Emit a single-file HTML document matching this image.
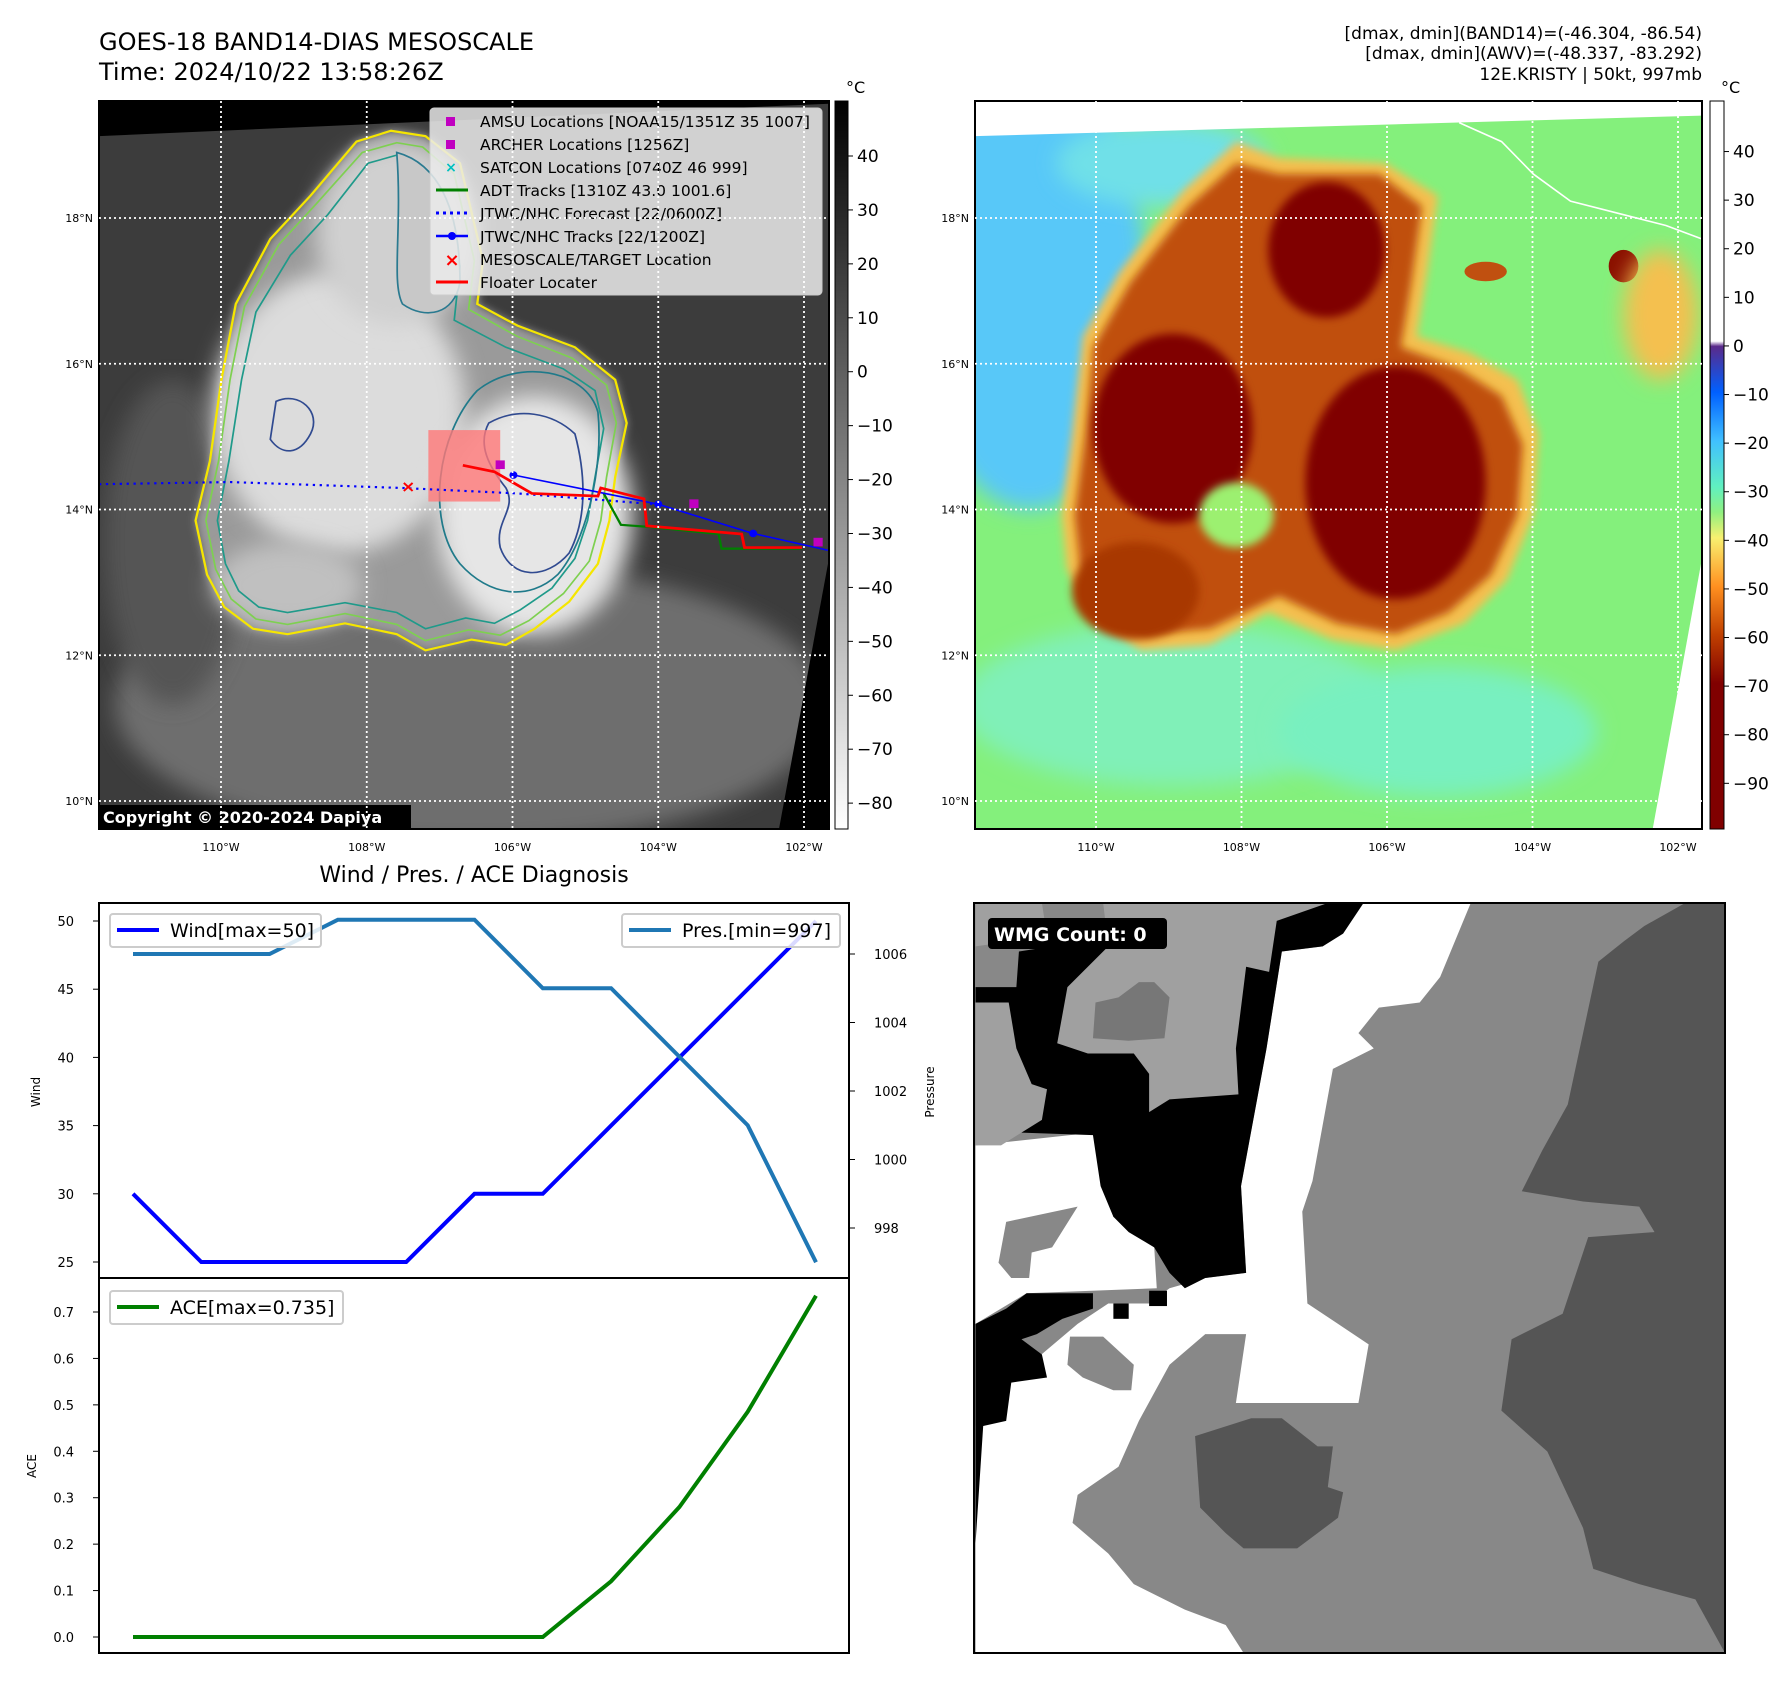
<!DOCTYPE html>
<html><head><meta charset="utf-8"><style>
html,body{margin:0;padding:0;background:#fff;}
svg{display:block;font-family:"DejaVu Sans","Liberation Sans",sans-serif;}
</style></head><body>
<svg id="root" width="1792" height="1690" viewBox="0 0 1792 1690" xmlns="http://www.w3.org/2000/svg">
<defs>
<filter id="blur8" x="-20%" y="-20%" width="140%" height="140%"><feGaussianBlur stdDeviation="8"/></filter>
<filter id="blur20" x="-30%" y="-30%" width="160%" height="160%"><feGaussianBlur stdDeviation="20"/></filter>
<linearGradient id="cb1" x1="0" y1="0" x2="0" y2="1"><stop offset="0" stop-color="#000"/><stop offset="1" stop-color="#fff"/></linearGradient>
<linearGradient id="cb2" x1="0" y1="0" x2="0" y2="1">
<stop offset="0" stop-color="#ffffff"/><stop offset="0.33" stop-color="#ffffff"/>
<stop offset="0.337" stop-color="#5a2a8a"/><stop offset="0.40" stop-color="#0060ff"/>
<stop offset="0.467" stop-color="#40c0ff"/><stop offset="0.53" stop-color="#60f0c0"/>
<stop offset="0.565" stop-color="#90f080"/><stop offset="0.60" stop-color="#f8f070"/>
<stop offset="0.667" stop-color="#ff9020"/><stop offset="0.733" stop-color="#c04000"/>
<stop offset="0.80" stop-color="#800000"/><stop offset="1" stop-color="#800000"/></linearGradient>
<clipPath id="clip1"><rect x="172" y="185" width="1270" height="1345"/></clipPath>
<clipPath id="clip2"><rect x="27" y="185" width="1371" height="1345"/></clipPath>
</defs>

<!-- titles -->
<text x="99" y="50" font-size="24" fill="#000">GOES-18 BAND14-DIAS MESOSCALE</text>
<text x="99" y="80" font-size="24" fill="#000">Time: 2024/10/22 13:58:26Z</text>
<g font-size="17" text-anchor="end" fill="#000">
<text x="1702" y="39">[dmax, dmin](BAND14)=(-46.304, -86.54)</text>
<text x="1702" y="59">[dmax, dmin](AWV)=(-48.337, -83.292)</text>
<text x="1702" y="80">12E.KRISTY | 50kt, 997mb</text>
</g>

<!-- MAP 1 -->
<g>
<svg x="99" y="101" width="730" height="728" viewBox="172 185 1270 1345" preserveAspectRatio="none">
<g clip-path="url(#clip1)">
<rect x="172" y="185" width="1270" height="1345" fill="#3c3c3c"/>
<ellipse cx="820" cy="1300" rx="620" ry="260" fill="#6e6e6e" filter="url(#blur20)"/>
<ellipse cx="300" cy="1000" rx="120" ry="300" fill="#555" filter="url(#blur20)"/>
<polygon points="385,700 410,560 470,440 540,360 620,260 680,240 740,250 800,300 840,480 830,560 900,600 1000,640 1070,700 1090,780 1070,880 1060,960 1040,1040 990,1110 930,1160 880,1190 820,1180 740,1200 690,1170 600,1150 500,1170 440,1160 390,1120 360,1060 340,960 365,850" fill="#9a9a9a" filter="url(#blur8)"/>
<ellipse cx="590" cy="760" rx="220" ry="260" fill="#dcdcdc" filter="url(#blur20)"/>
<ellipse cx="690" cy="430" rx="140" ry="170" fill="#d0d0d0" filter="url(#blur20)"/>
<ellipse cx="930" cy="950" rx="170" ry="220" fill="#e6e6e6" filter="url(#blur20)"/>
<ellipse cx="500" cy="1080" rx="130" ry="80" fill="#c0c0c0" filter="url(#blur20)"/>
<polygon points="385,700 410,560 470,440 540,360 620,260 680,240 740,250 800,300 840,480 830,560 900,600 1000,640 1070,700 1090,780 1070,880 1060,960 1040,1040 990,1110 930,1160 880,1190 820,1180 740,1200 690,1170 600,1150 500,1170 440,1160 390,1120 360,1060 340,960 365,850" fill="none" stroke="#f5e600" stroke-width="4"/>
<polygon points="400,700 425,565 485,450 550,375 630,280 690,262 735,270 790,320 825,480 815,570 900,620 995,660 1055,710 1072,780 1055,880 1045,960 1025,1035 980,1095 920,1145 870,1172 815,1162 740,1182 690,1152 600,1132 500,1152 445,1142 402,1105 375,1050 358,960 380,850" fill="none" stroke="#7ed050" stroke-width="3"/>
<polygon points="420,700 445,575 505,470 570,395 640,300 690,285 720,300 760,340 800,490 790,590 880,640 980,680 1035,720 1050,790 1035,880 1022,960 1000,1030 960,1085 905,1125 860,1150 810,1140 740,1160 690,1130 600,1112 500,1130 450,1120 415,1090 392,1040 378,960 398,850" fill="none" stroke="#1f9a8a" stroke-width="3"/>
<path d="M690,280 C760,300 800,380 800,520 C790,580 740,590 700,560 C680,520 700,420 690,280Z" fill="#c8c8c8" stroke="#2a7a90" stroke-width="3"/>
<path d="M830,720 C900,660 1020,680 1040,760 C1050,860 1020,1000 970,1060 C920,1110 850,1100 800,1040 C740,960 760,800 830,720Z" fill="none" stroke="#1f7a8a" stroke-width="3"/>
<path d="M850,780 C900,750 960,760 1000,800 C1020,880 1020,960 990,1020 C950,1070 890,1070 870,1010 C860,960 900,940 880,900 C850,860 830,820 850,780Z" fill="none" stroke="#304a90" stroke-width="3"/>
<path d="M480,740 C520,720 560,760 540,800 C520,840 490,840 470,810 Z" fill="none" stroke="#304a90" stroke-width="3"/>
</g>
<polygon points="172,185 1442,185 1442,190 172,250" fill="#000"/>
<polygon points="1442,1030 1442,1530 1355,1530" fill="#000"/>
<rect x="745" y="793" width="125" height="132" fill="rgba(255,120,120,0.8)"/>
<polyline points="172,893 400,889 700,900 900,910 1140,930" fill="none" stroke="#0000ff" stroke-width="4" stroke-dasharray="4,8"/>
<polyline points="1050,910 1080,968 1130,972 1250,985 1255,1012 1395,1012" fill="none" stroke="#008000" stroke-width="4"/>
<polyline points="893,876 1145,930 1310,984 1440,1015" fill="none" stroke="#0000ff" stroke-width="3"/>
<g fill="#0000ff"><circle cx="893" cy="876" r="7"/><circle cx="1145" cy="930" r="7"/><circle cx="1310" cy="984" r="7"/></g>
<polyline points="805,858 860,870 925,910 1040,915 1045,900 1120,920 1125,970 1290,985 1295,1010 1395,1010" fill="none" stroke="#ff0000" stroke-width="5"/>
<g fill="#c000c0"><rect x="862" y="849" width="16" height="16"/><rect x="1199" y="921" width="16" height="16"/><rect x="1415" y="992" width="16" height="16"/></g>
<text x="710" y="907" font-size="30" font-weight="bold" fill="#ff0000" text-anchor="middle">×</text>
</svg>
<rect x="99" y="101" width="730" height="728" fill="none" stroke="#000" stroke-width="2"/>
</g>

<!-- Legend map1 -->
<g>
<rect x="430" y="108" width="392" height="187" rx="4" fill="rgba(235,235,235,0.85)" stroke="#ccc"/>
<g font-size="15.5" fill="#000">
<rect x="446" y="117" width="9" height="9" fill="#c000c0"/><text x="480" y="127">AMSU Locations [NOAA15/1351Z 35 1007]</text>
<rect x="446" y="140" width="9" height="9" fill="#c000c0"/><text x="480" y="150">ARCHER Locations [1256Z]</text>
<text x="451" y="172" fill="#00c0c0" font-weight="bold" text-anchor="middle" font-size="14">×</text><text x="480" y="173">SATCON Locations [0740Z 46 999]</text>
<line x1="436" y1="190" x2="468" y2="190" stroke="#008000" stroke-width="3"/><text x="480" y="196">ADT Tracks [1310Z 43.0 1001.6]</text>
<line x1="436" y1="213" x2="468" y2="213" stroke="#0000ff" stroke-width="3" stroke-dasharray="3,4"/><text x="480" y="219">JTWC/NHC Forecast [22/0600Z]</text>
<line x1="436" y1="236" x2="468" y2="236" stroke="#0000ff" stroke-width="2.5"/><circle cx="452" cy="236" r="4" fill="#0000ff"/><text x="480" y="242">JTWC/NHC Tracks [22/1200Z]</text>
<text x="452" y="266" fill="#ff0000" font-weight="bold" text-anchor="middle" font-size="18">×</text><text x="480" y="265">MESOSCALE/TARGET Location</text>
<line x1="436" y1="282" x2="468" y2="282" stroke="#ff0000" stroke-width="3"/><text x="480" y="288">Floater Locater</text>
</g></g>
<rect x="99" y="805" width="312" height="24" fill="#000"/>
<text x="103" y="823" font-size="16" font-weight="bold" fill="#fff">Copyright © 2020-2024 Dapiya</text>

<!-- MAP 2 -->
<g>
<svg x="975" y="101" width="727" height="728" viewBox="27 185 1371 1345" preserveAspectRatio="none">
<g clip-path="url(#clip2)">
<rect x="27" y="185" width="1371" height="1345" fill="#84f07c"/>
<ellipse cx="130" cy="520" rx="220" ry="420" fill="#58c8f8" filter="url(#blur20)"/>
<ellipse cx="380" cy="300" rx="200" ry="80" fill="#70e0e8" filter="url(#blur20)"/>
<ellipse cx="400" cy="1300" rx="400" ry="150" fill="#80f0b8" filter="url(#blur20)"/>
<ellipse cx="900" cy="1350" rx="300" ry="120" fill="#78f0c0" filter="url(#blur20)"/>
<polygon points="230,620 300,500 420,350 520,260 600,290 800,300 900,360 880,500 860,620 960,650 1050,700 1090,800 1080,950 1030,1070 950,1150 820,1200 700,1180 580,1130 470,1190 340,1200 250,1140 200,1050 190,950 210,800" fill="#f4c050" filter="url(#blur8)"/>
<polygon points="250,640 320,520 430,380 520,300 600,320 790,320 870,380 850,520 830,640 940,680 1020,730 1060,820 1050,950 1000,1060 920,1130 820,1170 710,1150 600,1100 470,1160 350,1170 270,1120 225,1040 215,950 235,800" fill="#c05010" filter="url(#blur8)"/>
<ellipse cx="400" cy="790" rx="150" ry="175" fill="#800000" filter="url(#blur8)"/>
<ellipse cx="690" cy="460" rx="110" ry="125" fill="#800000" filter="url(#blur8)"/>
<ellipse cx="820" cy="890" rx="170" ry="215" fill="#800000" filter="url(#blur8)"/>
<ellipse cx="330" cy="1090" rx="120" ry="90" fill="#a83800" filter="url(#blur8)"/>
<ellipse cx="520" cy="950" rx="70" ry="60" fill="#9cf070" filter="url(#blur8)"/>
<ellipse cx="1250" cy="490" rx="28" ry="30" fill="#8a1000"/>
<ellipse cx="990" cy="500" rx="40" ry="18" fill="#c05010"/>
<ellipse cx="1320" cy="580" rx="70" ry="120" fill="#f4c050" filter="url(#blur20)"/>
<polyline points="940,225 1020,260 1080,320 1150,370 1250,395 1330,415 1398,440" fill="none" stroke="#fff" stroke-width="3"/>
</g>
<polygon points="27,185 1398,185 1398,212 27,250" fill="#fff"/>
<polygon points="1398,1030 1398,1530 1305,1530" fill="#fff"/>
</svg>
<rect x="975" y="101" width="727" height="728" fill="none" stroke="#000" stroke-width="2"/>
</g>

<!-- colorbars -->
<rect x="835" y="101" width="13" height="728" fill="url(#cb1)" stroke="#000" stroke-width="1"/>
<rect x="1710" y="101" width="14" height="728" fill="url(#cb2)" stroke="#000" stroke-width="1"/>
<text x="846" y="93" font-size="16">°C</text>
<text x="1721" y="93" font-size="16">°C</text>
<g id="cbticks" font-size="17" fill="#000"></g>
<g id="gridlines"></g>

<!-- BOTTOM RIGHT WMG -->
<g>
<svg x="974" y="903" width="751" height="750" viewBox="27 45 1471 1470" preserveAspectRatio="none">
<rect x="27" y="45" width="1471" height="1470" fill="#888"/>
<polygon points="1420,45 1498,45 1498,1515 1440,1410 1330,1380 1240,1350 1220,1270 1150,1120 1060,1040 1080,900 1180,850 1230,700 1360,690 1330,640 1220,630 1100,610 1140,530 1190,440 1250,160 1300,120 1340,90" fill="#555"/>
<polygon points="570,1055 630,1055 700,1110 730,1110 720,1190 750,1200 740,1250 700,1280 660,1310 555,1310 520,1280 470,1230 460,1090" fill="#555"/>
<polygon points="30,1515 555,1515 520,1460 440,1430 340,1380 290,1320 220,1260 230,1205 310,1150 350,1060 410,950 480,890 560,890 540,1025 780,1025 800,910 740,870 680,830 670,650 690,590 730,370 810,330 780,300 820,250 900,240 940,190 1000,45 790,45 710,130 630,140 600,330 550,600 560,770 480,780 410,800 370,830 290,830 230,870 100,980 30,1070" fill="#fff"/>
<polygon points="30,520 260,495 300,660 380,720 385,800 130,810 30,870" fill="#fff"/>
<polygon points="720,45 790,45 750,105 710,130 630,140 600,330 550,600 560,770 480,780 440,800 410,770 380,720 330,690 300,660 275,600 260,500 120,495 110,420 100,320 30,320 30,210 110,210 115,140 180,130 270,130 300,120 310,45" fill="#000"/>
<polygon points="280,45 720,45 620,80 605,180 560,170 540,330 545,420 410,430 370,455 370,380 340,340 250,340 190,320 210,210 250,170 290,130" fill="#a0a0a0"/>
<polygon points="30,45 160,45 170,110 30,130" fill="#a0a0a0"/>
<polygon points="30,240 95,240 110,330 140,400 170,410 160,470 80,520 30,520" fill="#a0a0a0"/>
<polygon points="265,240 310,230 350,200 380,200 410,230 400,310 330,315 260,310" fill="#777"/>
<polygon points="30,870 90,840 130,810 260,810 260,840 200,860 150,890 120,900 160,930 170,975 100,985 90,1060 45,1070 30,1300" fill="#000"/>
<polygon points="90,670 230,640 180,720 140,730 135,780 100,780 75,750" fill="#888"/>
<polygon points="215,895 280,895 340,950 335,1000 300,1000 240,975 210,950" fill="#888"/>
<rect x="300" y="830" width="30" height="30" fill="#000"/>
<rect x="370" y="805" width="35" height="30" fill="#000"/>
</svg>
<rect x="974" y="903" width="751" height="750" fill="none" stroke="#000" stroke-width="2"/>
<rect x="988" y="918" width="179" height="31" rx="4" fill="#000"/>
<text x="994" y="941" font-size="19" font-weight="bold" fill="#fff">WMG Count: 0</text>
</g>

<!-- BOTTOM LEFT CHART -->
<text x="474" y="882" font-size="22" text-anchor="middle">Wind / Pres. / ACE Diagnosis</text>
<g id="chart"></g>
</svg>

<script>
const NS='http://www.w3.org/2000/svg';
function mk(tag,attrs,parent,text){const e=document.createElementNS(NS,tag);for(const k in attrs)e.setAttribute(k,attrs[k]);if(text!==undefined)e.textContent=text;parent.appendChild(e);return e;}

// ---- data ----
const windValues=[30,25,25,25,25,30,30,35,40,45,50];
const presValues=[1006,1006,1006,1007,1007,1007,1005,1005,1003,1001,997];
const aceValues=[0,0,0,0,0,0,0,0.12,0.28,0.485,0.735];
const windTicks=[25,30,35,40,45,50];
const presTicks=[998,1000,1002,1004,1006];
const aceTicks=[0.0,0.1,0.2,0.3,0.4,0.5,0.6,0.7];
const ir_cbTicks=[40,30,20,10,0,-10,-20,-30,-40,-50,-60,-70,-80];
const awv_cbTicks=[40,30,20,10,0,-10,-20,-30,-40,-50,-60,-70,-80,-90];
const latTicks=[18,16,14,12,10];
const lonTicks=[110,108,106,104,102];

// axes functions
const xPos=i=>133+i*(816-133)/(windValues.length-1);
const yWind=v=>921+(50-v)*(1262-921)/25;
const yPres=v=>954+(1006-v)*(1228-954)/8;
const yAce=v=>1637-v*(1637-1312)/0.7;
const yIr=v=>101+(50.2-v)*728/135;
const yAwv=v=>101+(50.4-v)*728/149.8;
const yLat=v=>218+(18-v)*(801-218)/8;
const xLon1=v=>221+(110-v)*(804-221)/8;
const xLon2=v=>1096+(110-v)*(1678-1096)/8;

const chart=document.getElementById('chart');
const ax1=mk('rect',{x:99,y:903,width:750,height:375,fill:'none',stroke:'#000','stroke-width':2},chart);


const ax2=mk('rect',{x:99,y:1278,width:750,height:375,fill:'none',stroke:'#000','stroke-width':2},chart);



windTicks.forEach(v=>{const y=yWind(v);mk('line',{x1:93,y1:y,x2:99,y2:y,stroke:'#000'},chart);
 const t=mk('text',{x:74,y:y+5,'font-size':13,'text-anchor':'end'},chart,String(v));
 
 });
presTicks.forEach(v=>{const y=yPres(v);mk('line',{x1:849,y1:y,x2:855,y2:y,stroke:'#000'},chart);
 const t=mk('text',{x:874,y:y+5,'font-size':13},chart,String(v));
 
 });
aceTicks.forEach(v=>{const y=yAce(v);mk('line',{x1:93,y1:y,x2:99,y2:y,stroke:'#000'},chart);
 const t=mk('text',{x:74,y:y+5,'font-size':13,'text-anchor':'end'},chart,v.toFixed(1));
 
 });
const wl=mk('text',{x:40,y:1092,'font-size':12,'text-anchor':'middle',transform:'rotate(-90 40 1092)'},chart,'Wind');


const pl=mk('text',{x:934,y:1092,'font-size':12,'text-anchor':'middle',transform:'rotate(-90 934 1092)'},chart,'Pressure');


const al=mk('text',{x:36,y:1466,'font-size':12,'text-anchor':'middle',transform:'rotate(-90 36 1466)'},chart,'ACE');



const windLine=mk('polyline',{points:windValues.map((v,i)=>xPos(i)+','+yWind(v)).join(' '),fill:'none',stroke:'#0000ff','stroke-width':4},chart);


const presLine=mk('polyline',{points:presValues.map((v,i)=>xPos(i)+','+yPres(v)).join(' '),fill:'none',stroke:'#1f77b4','stroke-width':4},chart);


const aceLine=mk('polyline',{points:aceValues.map((v,i)=>xPos(i)+','+yAce(v)).join(' '),fill:'none',stroke:'#008000','stroke-width':4},chart);



function legend(x,y,w,color,label,name){const g=mk('g',{},chart);
 
 
 mk('rect',{x:x,y:y,width:w,height:33,rx:3,fill:'rgba(255,255,255,0.85)',stroke:'#ccc','stroke-width':2},g);
 mk('line',{x1:x+7,y1:y+16,x2:x+49,y2:y+16,stroke:color,'stroke-width':4},g);
 mk('text',{x:x+60,y:y+23,'font-size':19},g,label);}
legend(110,914,211,'#0000ff','Wind[max=50]','wind-legend');
legend(622,914,218,'#1f77b4','Pres.[min=997]','pressure-legend');
legend(110,1291,233,'#008000','ACE[max=0.735]','ace-legend');

const cbg=document.getElementById('cbticks');
ir_cbTicks.forEach(v=>{const y=yIr(v);mk('line',{x1:848,y1:y,x2:853,y2:y,stroke:'#000'},cbg);
 const t=mk('text',{x:857,y:y+6},cbg,v<0?'\u2212'+(-v):String(v));
 
 });
awv_cbTicks.forEach(v=>{const y=yAwv(v);mk('line',{x1:1724,y1:y,x2:1729,y2:y,stroke:'#000'},cbg);
 const t=mk('text',{x:1733,y:y+6},cbg,v<0?'\u2212'+(-v):String(v));
 
 });

const gg=document.getElementById('gridlines');
[[99,829,xLon1],[975,1702,xLon2]].forEach(([x0,x1,fx])=>{
 latTicks.forEach(v=>{const y=yLat(v);mk('line',{x1:x0,y1:y,x2:x1,y2:y,stroke:'#fff','stroke-width':1.8,'stroke-dasharray':'2,3'},gg);
  const t=mk('text',{x:x0-6,y:y+4,'font-size':11,'text-anchor':'end'},gg,v+'°N');
  
  });
 lonTicks.forEach(v=>{const x=fx(v);mk('line',{x1:x,y1:101,x2:x,y2:829,stroke:'#fff','stroke-width':1.8,'stroke-dasharray':'2,3'},gg);
  const t=mk('text',{x:x,y:851,'font-size':11,'text-anchor':'middle'},gg,v+'°W');
  
  });
});
</script>
</body></html>
